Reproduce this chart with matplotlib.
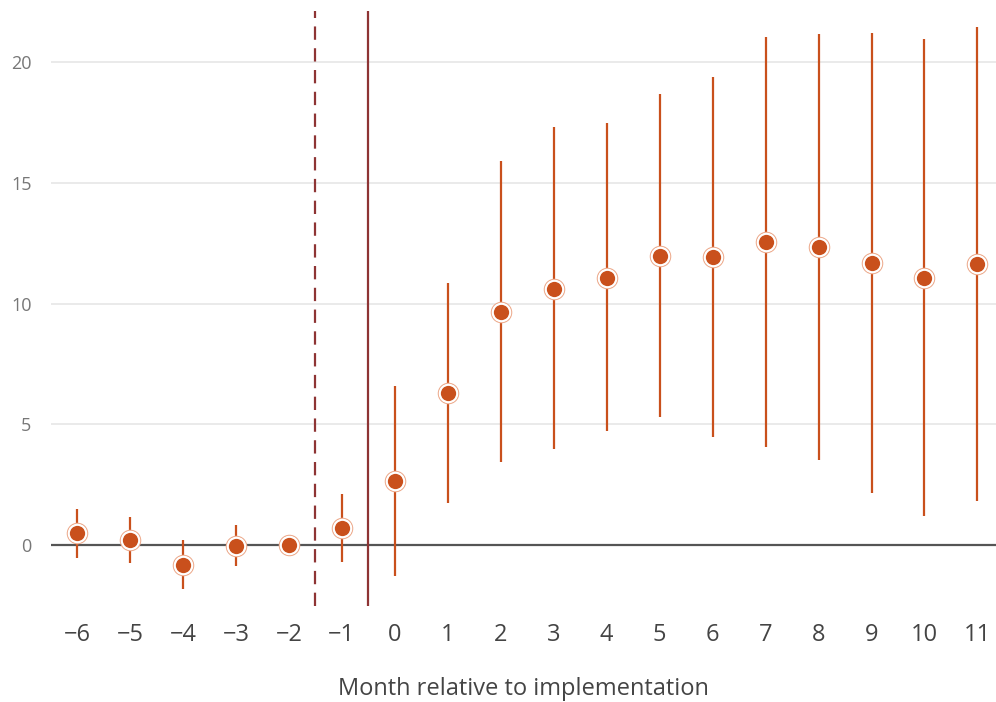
import matplotlib
matplotlib.use("Agg")
import matplotlib.pyplot as plt
import numpy as np

plt.rcParams['font.family'] = ['Open Sans', 'DejaVu Sans']

months = [-6, -5, -4, -3, -2, -1, 0, 1, 2, 3, 4, 5, 6, 7, 8, 9, 10, 11]
estimate = [0.49, 0.21, -0.83, -0.03, 0.0, 0.72, 2.66, 6.30, 9.65, 10.60, 11.08, 11.98, 11.94, 12.57, 12.36, 11.67, 11.08, 11.64]
ci_low = [-0.53, -0.76, -1.84, -0.86, 0.0, -0.69, -1.28, 1.73, 3.45, 3.96, 4.72, 5.30, 4.47, 4.07, 3.52, 2.14, 1.22, 1.82]
ci_high = [1.49, 1.17, 0.19, 0.83, 0.0, 2.11, 6.60, 10.87, 15.93, 17.32, 17.47, 18.68, 19.38, 21.07, 21.18, 21.22, 20.97, 21.47]
y_ticks = [0, 5, 10, 15, 20]
x_label = "Month relative to implementation"

orange = "#C9501C"
ring = "#EDAA8C"
darkred = "#8E3434"

fig = plt.figure(figsize=(9.96, 7.02), dpi=100)
ax = fig.add_axes([51/996, 1-606/702, 1-51/996, (606-11)/702])

ax.set_xlim(-6.49, 11.35)
ax.set_ylim(-2.53, 22.13)

for y in y_ticks:
    if y != 0:
        ax.axhline(y, color="#E8E8E8", lw=1.3, zorder=0)
ax.axhline(0, color="#555555", lw=1.6, zorder=1)

ax.axvline(-1.5, color=darkred, lw=1.6, ls=(0, (6, 3.8)), zorder=2)
ax.axvline(-0.5, color=darkred, lw=1.6, zorder=2)

m = np.array(months)
e = np.array(estimate)
lo = np.array(ci_low)
hi = np.array(ci_high)
ax.vlines(m, lo, hi, color=orange, lw=1.6, zorder=3)

ax.plot(m, e, 'o', ms=14.5, mfc='none', mec=ring, mew=1.0, zorder=4, ls='none')
ax.plot(m, e, 'o', ms=12.5, mfc=orange, mec='white', mew=1.5, zorder=5, ls='none')

ax.set_yticks(y_ticks)
ax.set_yticklabels([str(v) for v in y_ticks])
ax.set_xticks(months)
ax.set_xticklabels([("\u2212" + str(-v)) if v < 0 else str(v) for v in months])

for s in ax.spines.values():
    s.set_visible(False)
ax.tick_params(axis='y', length=0, pad=14, labelsize=13, labelcolor="#777777")
ax.tick_params(axis='x', length=0, pad=12, labelsize=17, labelcolor="#444444")

ax.set_xlabel(x_label, fontsize=17, color="#444444", labelpad=22)

fig.savefig("out.png", dpi=100)
